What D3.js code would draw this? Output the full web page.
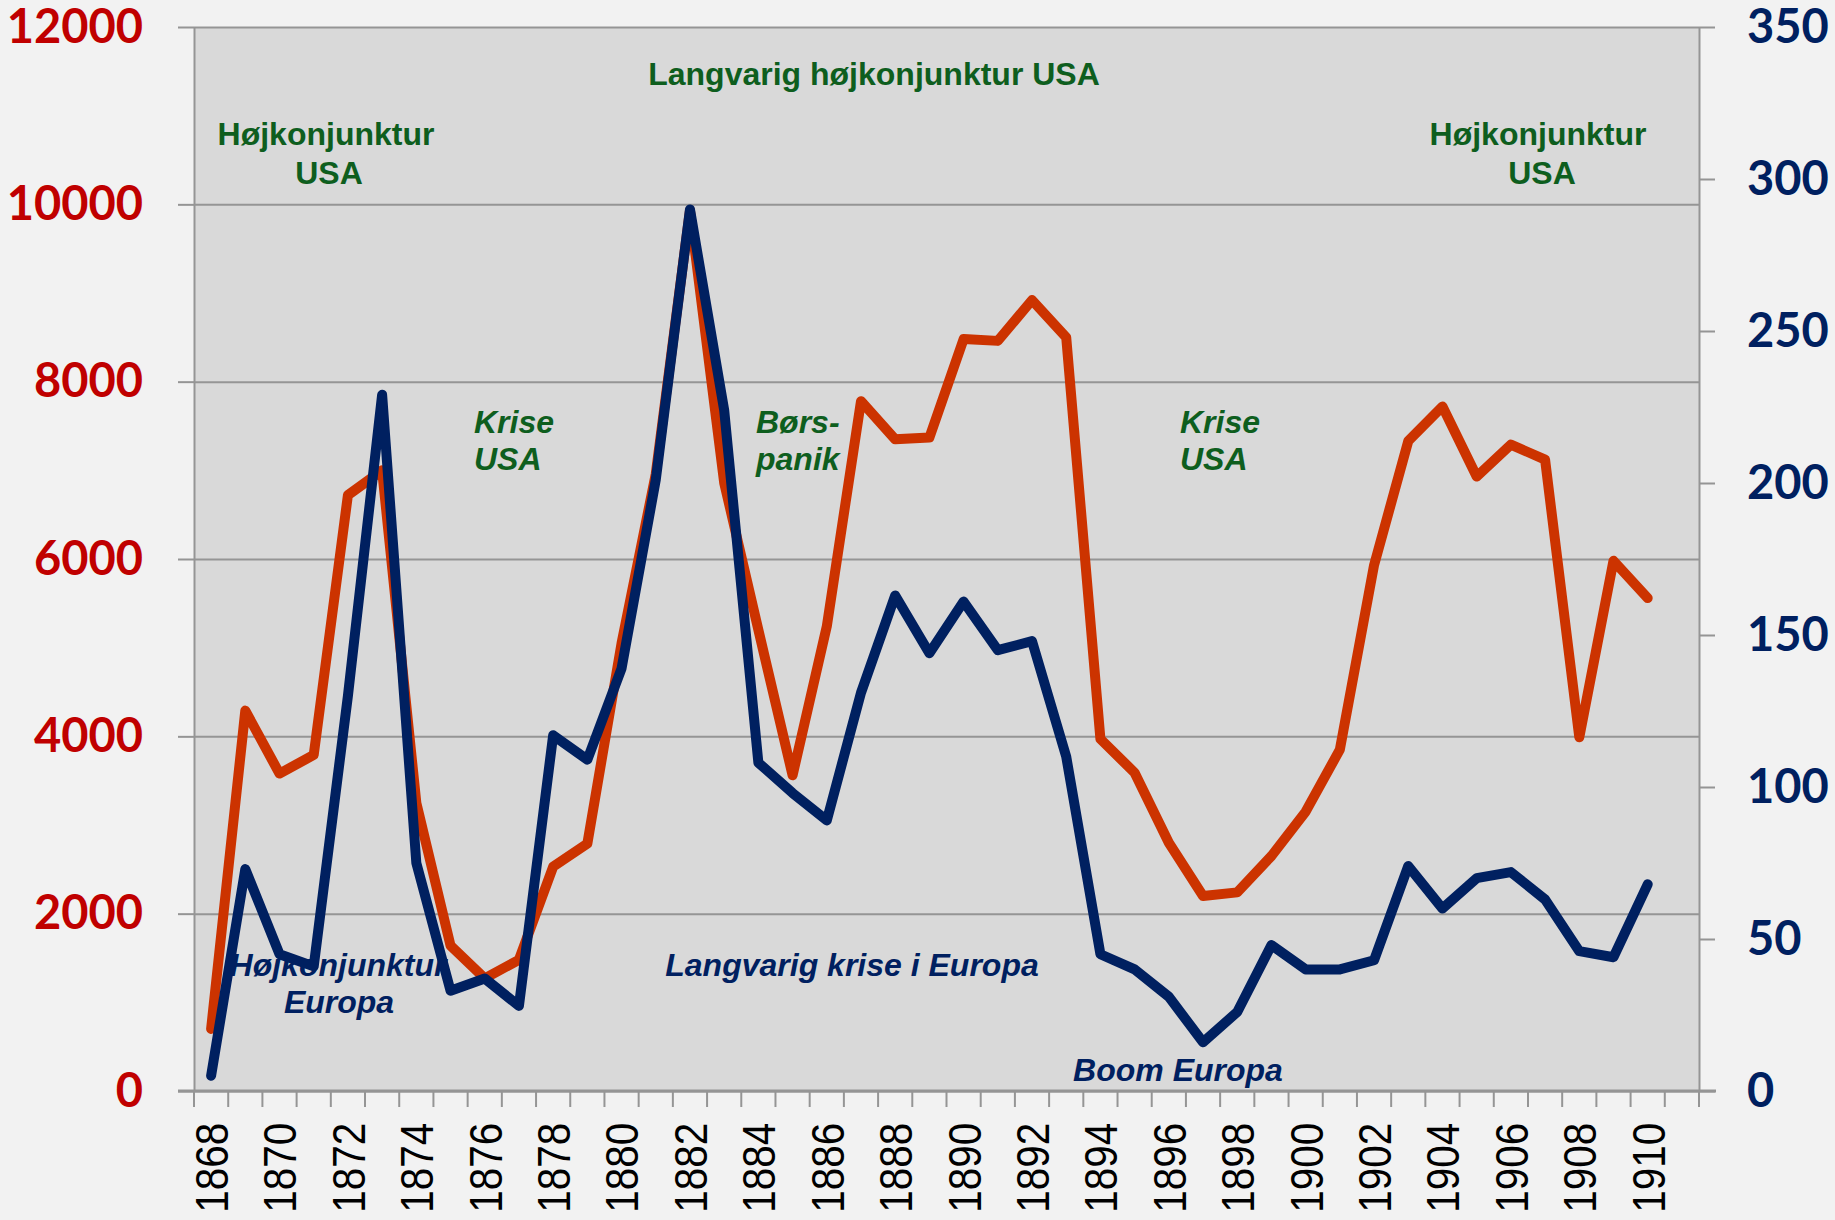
<!DOCTYPE html>
<html>
<head>
<meta charset="utf-8">
<title>Højkonjunktur og krise</title>
<script src="https://d3js.org/d3.v7.min.js"></script>
<style>
  body { margin: 0; background: #f2f2f2; }
  svg { display: block; }
</style>
</head>
<body>
<script>
'use strict';
// years on the category axis (1911 is an empty slot at the end)
const years = d3.range(1868, 1912);
// left axis series (red)
const usa = [700, 4290, 3580, 3790, 6720, 7000, 3250, 1640, 1270, 1480,
             2530, 2790, 5050, 6960, 9930, 6860, 5200, 3560, 5240, 7780,
             7350, 7370, 8480, 8460, 8920, 8500, 3970, 3590, 2800, 2200,
             2240, 2650, 3150, 3850, 5930, 7330, 7720, 6930, 7290, 7120,
             3990, 5980, 5560];
// right axis series (navy)
const europa = [5, 73, 45, 41, 130, 229, 75, 33, 37, 28,
                117, 109, 139, 201, 290, 224, 108, 98, 89, 131,
                163, 144, 161, 145, 148, 110, 45, 40, 31, 16,
                26, 48, 40, 40, 43, 74, 60, 70, 72, 63,
                46, 44, 68];
const leftTicks = [0, 2000, 4000, 6000, 8000, 10000, 12000];
const rightTicks = [0, 50, 100, 150, 200, 250, 300, 350];

const W = 1835, H = 1220;
const plot = {left: 194, right: 1699, top: 27, bottom: 1091};

const svg = d3.select('body').append('svg')
    .attr('width', W).attr('height', H);
svg.append('rect').attr('width', W).attr('height', H).attr('fill', '#f2f2f2');
svg.append('rect')
    .attr('x', plot.left).attr('y', plot.top)
    .attr('width', plot.right - plot.left).attr('height', plot.bottom - plot.top)
    .attr('fill', '#d9d9d9');

const x = d3.scaleBand().domain(years).range([plot.left, plot.right]);
const yL = d3.scaleLinear().domain([0, 12000]).range([plot.bottom, plot.top]);
const yR = d3.scaleLinear().domain([0, 350]).range([plot.bottom, plot.top]);

const gray = '#959595';

// gridlines
svg.append('g')
    .attr('transform', `translate(${plot.left},0)`)
    .call(d3.axisLeft(yL).tickValues(leftTicks).tickSize(-(plot.right - plot.left)).tickFormat(''))
    .call(g => g.select('.domain').remove())
    .call(g => g.selectAll('line').attr('stroke', gray).attr('stroke-width', 2));

// left axis
svg.append('g')
    .attr('transform', `translate(${plot.left},0)`)
    .call(d3.axisLeft(yL).tickValues(leftTicks).tickFormat(d3.format('d'))
        .tickSize(16).tickPadding(35).tickSizeOuter(0))
    .call(g => g.select('.domain').attr('stroke', gray).attr('stroke-width', 2))
    .call(g => g.selectAll('line').attr('stroke', gray).attr('stroke-width', 2))
    .call(g => g.selectAll('text')
        .attr('fill', '#c00000')
        .style('font', 'bold 47px Lato, "Open Sans", sans-serif'));

// right axis
svg.append('g')
    .attr('transform', `translate(${plot.right},0)`)
    .call(d3.axisRight(yR).tickValues(rightTicks).tickFormat(d3.format('d'))
        .tickSize(16).tickPadding(32).tickSizeOuter(0))
    .call(g => g.select('.domain').attr('stroke', gray).attr('stroke-width', 2))
    .call(g => g.selectAll('line').attr('stroke', gray).attr('stroke-width', 2))
    .call(g => g.selectAll('text')
        .attr('fill', '#002060')
        .style('font', 'bold 47px Lato, "Open Sans", sans-serif'));

// x axis: ticks between categories, labels every other year
const xAxis = svg.append('g').attr('transform', `translate(0,${plot.bottom})`);
xAxis.append('line')
    .attr('x1', plot.left - 16).attr('x2', plot.right + 17)
    .attr('stroke', gray).attr('stroke-width', 3);
xAxis.selectAll('line.tick')
    .data(years.concat([years[years.length - 1] + 1]))
    .join('line')
    .attr('class', 'tick')
    .attr('x1', d => d <= 1911 ? x(d) : plot.right)
    .attr('x2', d => d <= 1911 ? x(d) : plot.right)
    .attr('y1', 0).attr('y2', 16)
    .attr('stroke', gray).attr('stroke-width', 2);
xAxis.append('g')
    .call(d3.axisBottom(x).tickSize(0)
        .tickFormat(d => (d - 1868) % 2 === 0 ? d : ''))
    .call(g => g.select('.domain').remove())
    .call(g => g.selectAll('text')
        .attr('transform', 'rotate(-90) scale(0.86,1)')
        .attr('x', -37).attr('y', 0).attr('dy', '0.36em')
        .attr('text-anchor', 'end')
        .attr('fill', '#000')
        .style('font', '47px "Liberation Sans", Arial, sans-serif'));

// annotations (under the lines)
const green = '#0e5e1e', navy = '#002060';
const notes = [
  {t: 'Langvarig højkonjunktur USA', x: 874, y: 85, a: 'middle', c: green, i: false},
  {t: 'Højkonjunktur', x: 326, y: 145, a: 'middle', c: green, i: false},
  {t: 'USA', x: 329, y: 184, a: 'middle', c: green, i: false},
  {t: 'Højkonjunktur', x: 1538, y: 145, a: 'middle', c: green, i: false},
  {t: 'USA', x: 1542, y: 184, a: 'middle', c: green, i: false},
  {t: 'Krise', x: 474, y: 433, a: 'start', c: green, i: true},
  {t: 'USA', x: 474, y: 470, a: 'start', c: green, i: true},
  {t: 'Børs-', x: 756, y: 433, a: 'start', c: green, i: true},
  {t: 'panik', x: 756, y: 470, a: 'start', c: green, i: true},
  {t: 'Krise', x: 1180, y: 433, a: 'start', c: green, i: true},
  {t: 'USA', x: 1180, y: 470, a: 'start', c: green, i: true},
  {t: 'Højkonjunktur', x: 338, y: 976, a: 'middle', c: navy, i: true},
  {t: 'Europa', x: 339, y: 1013, a: 'middle', c: navy, i: true},
  {t: 'Langvarig krise i Europa', x: 852, y: 976, a: 'middle', c: navy, i: true},
  {t: 'Boom Europa', x: 1178, y: 1081, a: 'middle', c: navy, i: true}
];
svg.append('g').selectAll('text')
    .data(notes)
    .join('text')
    .attr('x', d => d.x).attr('y', d => d.y)
    .attr('text-anchor', d => d.a)
    .attr('fill', d => d.c)
    .style('font-family', '"Liberation Sans", Arial, sans-serif')
    .style('font-size', '32px')
    .style('font-weight', 'bold')
    .style('font-style', d => d.i ? 'italic' : 'normal')
    .text(d => d.t);

// lines
const cx = i => x(years[i]) + x.bandwidth() / 2;
const lineL = d3.line().x((d, i) => cx(i)).y(d => yL(d));
const lineR = d3.line().x((d, i) => cx(i)).y(d => yR(d));

svg.append('path')
    .datum(usa)
    .attr('d', lineL)
    .attr('fill', 'none')
    .attr('stroke', '#cc3300')
    .attr('stroke-width', 10)
    .attr('stroke-linejoin', 'round')
    .attr('stroke-linecap', 'round');

svg.append('path')
    .datum(europa)
    .attr('d', lineR)
    .attr('fill', 'none')
    .attr('stroke', '#002060')
    .attr('stroke-width', 10)
    .attr('stroke-linejoin', 'round')
    .attr('stroke-linecap', 'round');
</script>
</body>
</html>
